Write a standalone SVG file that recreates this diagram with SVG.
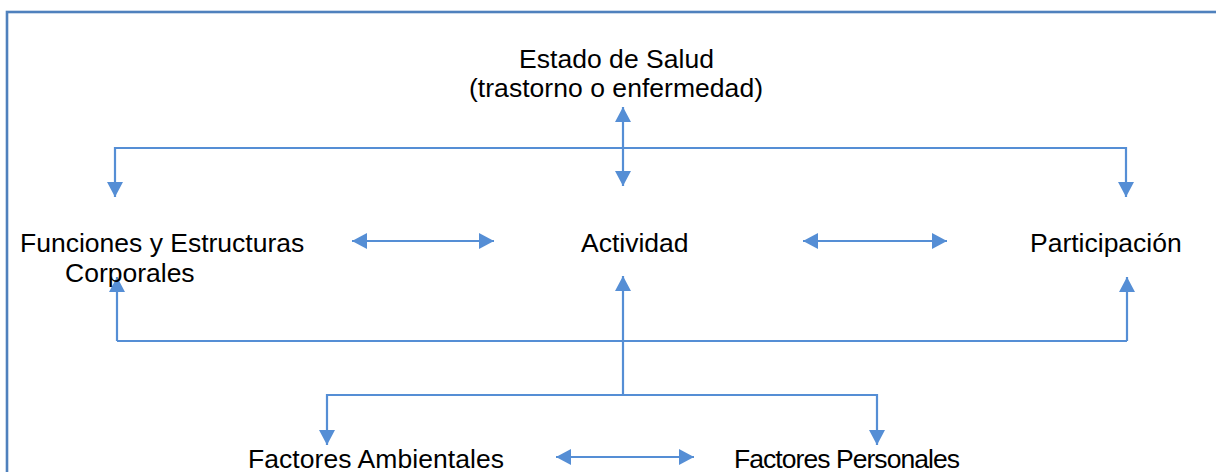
<svg xmlns="http://www.w3.org/2000/svg" width="1216" height="472" viewBox="0 0 1216 472">
<defs>
<style>
.t{font-family:"Liberation Sans",Arial,sans-serif;font-size:26.5px;fill:#000}
.c{stroke:#558ED5;stroke-width:2.2;fill:none}
.b{stroke:#4F81BD;stroke-width:2.6;fill:none}
</style>
<marker id="ah" markerUnits="userSpaceOnUse" markerWidth="16" markerHeight="16" refX="15" refY="8" orient="auto-start-reverse" viewBox="0 0 16 16">
<path d="M0,0 L15,8 L0,16 z" fill="#558ED5"/>
</marker>
</defs>
<rect width="1216" height="472" fill="#fff"/>
<rect class="b" x="7" y="12" width="1230" height="480"/>
<g id="connectors">
<path class="c" d="M623,148 H115 V197" marker-end="url(#ah)"/>
<path class="c" d="M623,148 H1126 V197" marker-end="url(#ah)"/>
<path class="c" d="M623,107 V186" marker-start="url(#ah)" marker-end="url(#ah)"/>
<path class="c" d="M352,241 H494" marker-start="url(#ah)" marker-end="url(#ah)"/>
<path class="c" d="M803,241 H947" marker-start="url(#ah)" marker-end="url(#ah)"/>
<path class="c" d="M117,341 H1127"/>
<path class="c" d="M117,341 V277" marker-end="url(#ah)"/>
<path class="c" d="M1127,341 V277" marker-end="url(#ah)"/>
<path class="c" d="M623,395 V276" marker-end="url(#ah)"/>
<path class="c" d="M623,395 H327 V445" marker-end="url(#ah)"/>
<path class="c" d="M623,395 H877 V445" marker-end="url(#ah)"/>
<path class="c" d="M556,457 H694" marker-start="url(#ah)" marker-end="url(#ah)"/>
</g>
<g id="estado"><text class="t" x="519" y="68" textLength="195">Estado de Salud</text><text class="t" x="469" y="97" textLength="294">(trastorno o enfermedad)</text></g>
<g id="funciones"><text class="t" x="20" y="252">Funciones y Estructuras</text><text class="t" x="65" y="282">Corporales</text></g>
<g id="actividad"><text class="t" x="581" y="252">Actividad</text></g>
<g id="participacion"><text class="t" x="1030" y="252">Participación</text></g>
<g id="ambientales"><text class="t" x="248" y="468" textLength="256">Factores Ambientales</text></g>
<g id="personales"><text class="t" x="734" y="468" textLength="226">Factores Personales</text></g>
</svg>
